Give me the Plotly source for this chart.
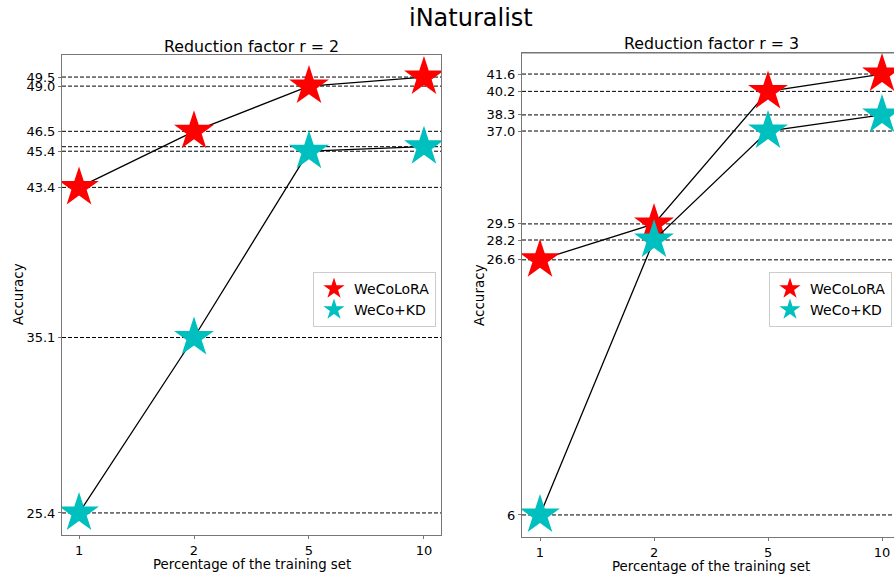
import plotly.graph_objects as go

# Training-set percentages (categorical x axis)
pct = ["1", "2", "5", "10"]

# Accuracy, reduction factor r = 2
r2_wecolora = [43.4, 46.5, 49.0, 49.5]
r2_wecokd = [25.4, 35.1, 45.4, 45.65]
r2_ticks = [25.4, 35.1, 43.4, 45.4, 46.5, 49.0, 49.5]

# Accuracy, reduction factor r = 3
r3_wecolora = [26.6, 29.5, 40.2, 41.6]
r3_wecokd = [6.0, 28.2, 37.0, 38.3]
r3_ticks = [6, 26.6, 28.2, 29.5, 37.0, 38.3, 40.2, 41.6]

FONT = "DejaVu Sans"
RED = "#ff0000"
CYAN = "#00bfbf"

fig = go.Figure()


def add_panel(xa, ya, lora, kd, legend):
    for name, vals, col in (("WeCoLoRA", lora, RED), ("WeCo+KD", kd, CYAN)):
        # connecting line (kept out of the legend)
        fig.add_trace(go.Scatter(
            x=pct, y=vals, mode="lines", showlegend=False,
            line=dict(color="black", width=1.3),
            xaxis=xa, yaxis=ya, hoverinfo="skip",
        ))
        # star markers with legend entry
        fig.add_trace(go.Scatter(
            x=pct, y=vals, name=name, mode="markers",
            marker=dict(symbol="star", size=30, color=col,
                        line=dict(width=0)),
            xaxis=xa, yaxis=ya, legend=legend,
        ))
        # dashed reference line at each measured value
        for v in vals:
            fig.add_shape(
                type="line", xref=f"{xa} domain", yref=ya,
                x0=0, x1=1, y0=v, y1=v, layer="below",
                line=dict(color="black", width=1, dash="4px,2px"),
            )


add_panel("x", "y", r2_wecolora, r2_wecokd, "legend")
add_panel("x2", "y2", r3_wecolora, r3_wecokd, "legend2")

axis_common = dict(
    showline=True, linecolor="#777", linewidth=1, ticks="outside",
    ticklen=3, tickcolor="#777", showgrid=False, zeroline=False,
    tickfont=dict(family=FONT, size=13, color="black"),
)

legend_common = dict(
    xanchor="right", yanchor="top", bordercolor="#cccccc", borderwidth=1,
    bgcolor="white", font=dict(size=14), itemsizing="trace",
    tracegroupgap=0,
)


def text(t, x, y, size, angle=0):
    return dict(text=t, x=x / 894, y=1 - y / 576, xref="paper",
                yref="paper", showarrow=False, font=dict(size=size),
                xanchor="center", yanchor="middle", textangle=angle)


fig.update_layout(
    width=894, height=576,
    margin=dict(l=0, r=0, t=0, b=0),
    paper_bgcolor="white", plot_bgcolor="white",
    showlegend=True,
    font=dict(family=FONT, color="black"),
    xaxis=dict(domain=[62 / 894, 441 / 894], type="category",
               range=[-0.148, 3.148], mirror=True, anchor="y",
               **axis_common),
    yaxis=dict(domain=[41 / 576, 521 / 576], range=[24.18, 50.72],
               tickvals=r2_ticks,
               ticktext=[f"{t:.1f}" for t in r2_ticks],
               mirror=True, anchor="x", **axis_common),
    xaxis2=dict(domain=[522 / 894, 1.0], type="category",
                range=[-0.158, 3.105], mirror=True, anchor="y2",
                **axis_common),
    yaxis2=dict(domain=[39 / 576, 523 / 576], range=[4.22, 43.3],
                tickvals=r3_ticks,
                ticktext=[str(t) if t == int(t) and t < 10 else f"{t:.1f}"
                          for t in r3_ticks],
                mirror=False, anchor="x2", **axis_common),
    legend=dict(x=436 / 894, y=(576 - 272) / 576, **legend_common),
    legend2=dict(x=892 / 894, y=(576 - 272) / 576, **legend_common),
    annotations=[
        text("iNaturalist", 471, 18, 24),
        text("Reduction factor r = 2", 251.5, 46, 15.8),
        text("Reduction factor r = 3", 711, 43, 15.8),
        text("Percentage of the training set", 252, 564, 13.3),
        text("Percentage of the training set", 711, 566, 13.3),
        text("Accuracy", 18, 294, 13.5, -90),
        text("Accuracy", 479, 295, 13.5, -90),
    ],
)

# top border for the right panel only (its right edge runs off the page)
fig.add_shape(type="line", xref="x2 domain", yref="y2 domain",
              x0=0, x1=1, y0=1, y1=1, line=dict(color="#777", width=1))

fig.write_html("out.html")
